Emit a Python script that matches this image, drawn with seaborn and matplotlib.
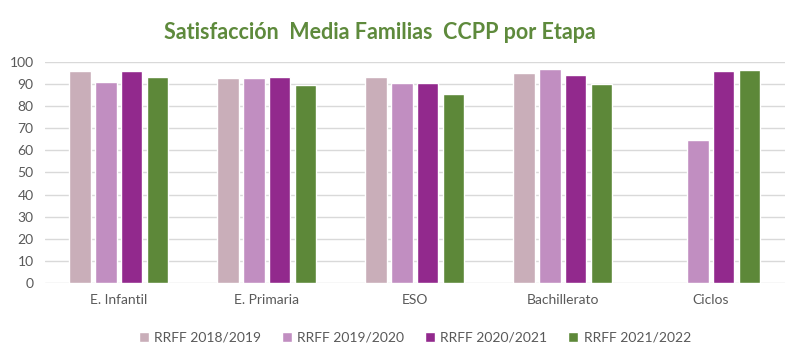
import matplotlib
matplotlib.use("Agg")
import matplotlib.pyplot as plt
import seaborn as sns
import pandas as pd
import numpy as np

categories = ["E. Infantil", "E. Primaria", "ESO", "Bachillerato", "Ciclos"]
series_names = ["RRFF 2018/2019", "RRFF 2019/2020", "RRFF 2020/2021", "RRFF 2021/2022"]
v_2018 = [96.1, 92.9, 93.4, 95.2, np.nan]
v_2019 = [91.1, 92.9, 90.6, 97.0, 64.6]
v_2020 = [96.1, 93.4, 90.6, 94.0, 96.1]
v_2021 = [93.4, 89.4, 85.7, 90.2, 96.5]
colors = ["#C9AEB9", "#C18EC1", "#92298D", "#5D8839"]

rows = []
for name, vals in zip(series_names, [v_2018, v_2019, v_2020, v_2021]):
    for c, v in zip(categories, vals):
        rows.append({"Etapa": c, "Serie": name, "Valor": v})
df = pd.DataFrame(rows)

sns.set_style("white")
plt.rcParams["font.family"] = ["Lato", "DejaVu Sans"]

fig = plt.figure(figsize=(8, 3.6), dpi=100)
ax = fig.add_axes([0.056, 0.214, 0.925, 0.614])
sns.barplot(data=df, x="Etapa", y="Valor", hue="Serie", order=categories,
            hue_order=series_names, palette=colors, width=0.7, gap=0.17,
            saturation=1, ax=ax, errorbar=None)

ax.set_ylim(0, 100)
ax.set_yticks(range(0, 101, 10))
ax.set_xlim(-0.5, 4.5)
ax.yaxis.grid(True, color="#D9D9D9", linewidth=1)
ax.set_axisbelow(True)
for s in ax.spines.values():
    s.set_visible(False)
ax.tick_params(axis="both", length=0, colors="#595959", labelsize=10)
ax.tick_params(axis="y", pad=8)
ax.tick_params(axis="x", pad=8)
ax.set_xlabel("")
ax.set_ylabel("")

ax.legend(loc="upper center", bbox_to_anchor=(0.5, -0.165), ncol=4, frameon=False,
          fontsize=10, handlelength=0.7, handleheight=0.7, handletextpad=0.4,
          columnspacing=1.5, labelcolor="#595959")

fig.suptitle("Satisfacción  Media Familias  CCPP por Etapa", x=0.475, y=0.94,
             fontsize=15.5, fontweight="bold", color="#5E8A3C")

fig.savefig("out.png", dpi=100)
